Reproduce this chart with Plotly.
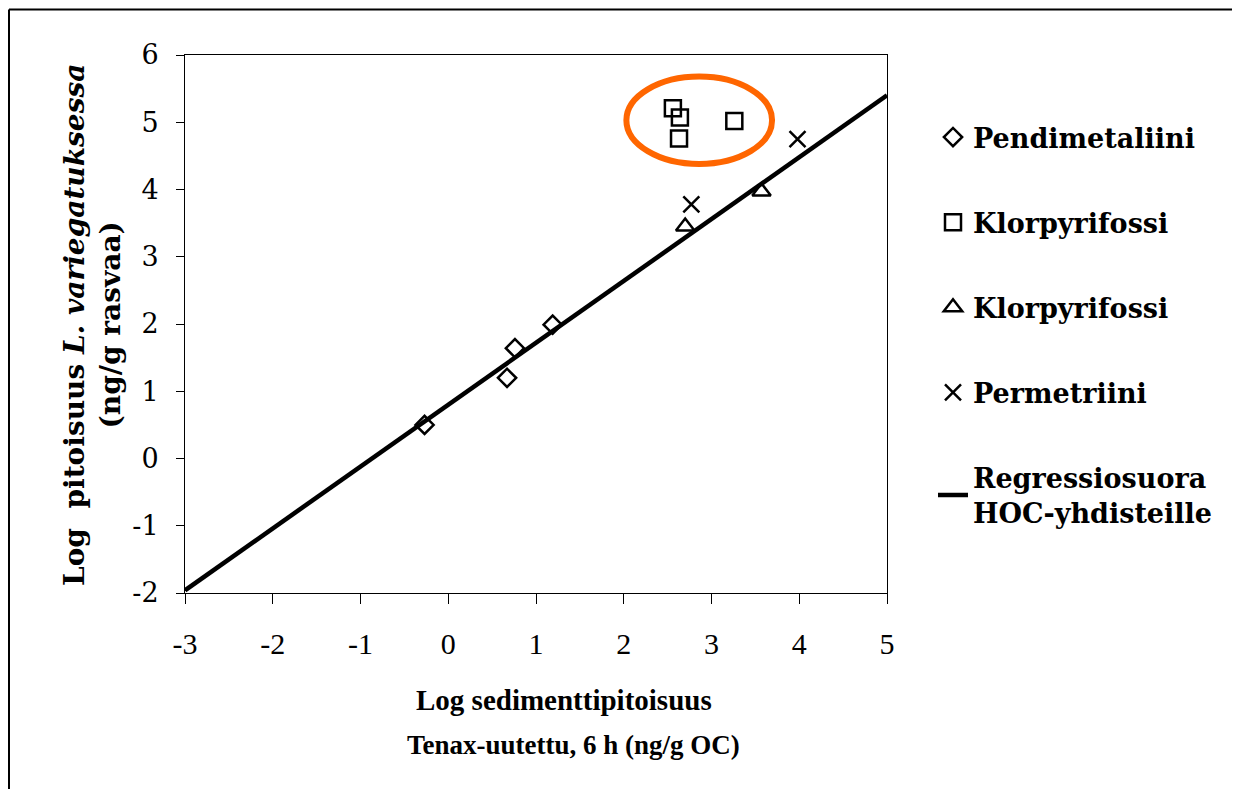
import plotly.graph_objects as go

# ---- data ----
pend_x = [-0.27, 0.67, 0.76, 1.19]
pend_y = [0.50, 1.20, 1.64, 1.99]
klor1_x = [2.56, 2.64, 2.63, 3.26]
klor1_y = [5.21, 5.07, 4.76, 5.02]
klor2_x = [2.70, 3.57]
klor2_y = [3.45, 3.97]
perm_x = [2.77, 3.98]
perm_y = [3.78, 4.75]
reg_x = [-3, 5]
reg_slope = 0.92
reg_intercept = 0.80
reg_y = [reg_slope * v + reg_intercept for v in reg_x]

x_ticks = [-3, -2, -1, 0, 1, 2, 3, 4, 5]
x_ticktext = ["-3", "-2", "-1", "0", "1", "2", "3", "4", "5"]
y_ticks = [-2, -1, 0, 1, 2, 3, 4, 5, 6]
y_ticktext = ["-2", "-1", "0", "1", "2", "3", "4", "5", "6"]

names = ["Pendimetaliini", "Klorpyrifossi", "Klorpyrifossi", "Permetriini",
         "Regressiosuora<br>HOC-yhdisteille"]

# ---- layout geometry (page body has an 8px margin) ----
O = 8
W, H = 1240 - O, 789 - O
L, R, T, B = 185 - O, 887 - O, 55 - O, 593 - O


def px(xp):
    return (xp - O - L) / (R - L)


def py(yp):
    return (B - (yp - O)) / (B - T)


SERIF = "DejaVu Serif"
TIMES = "Liberation Serif"

fig = go.Figure()

fig.add_trace(go.Scatter(x=pend_x, y=pend_y, mode="markers", name=names[0], legendgroup="a",
                         marker=dict(symbol="diamond-open", size=14, color="black",
                                     line=dict(color="black", width=2.5))))
fig.add_trace(go.Scatter(x=klor1_x, y=klor1_y, mode="markers", name=names[1], legendgroup="b",
                         marker=dict(symbol="square-open", size=16, color="black",
                                     line=dict(color="black", width=2.5))))
fig.add_trace(go.Scatter(x=klor2_x, y=klor2_y, mode="markers", name=names[2], legendgroup="c",
                         marker=dict(symbol="triangle-up-open", size=16, color="black",
                                     line=dict(color="black", width=2.5))))
fig.add_trace(go.Scatter(x=perm_x, y=perm_y, mode="markers", name=names[3], legendgroup="d",
                         marker=dict(symbol="x-thin-open", size=16, color="black",
                                     line=dict(color="black", width=2.5))))
fig.add_trace(go.Scatter(x=reg_x, y=reg_y, mode="lines", name=names[4], legendgroup="e",
                         line=dict(color="black", width=4.5)))

# orange ellipse highlighting the group
ell = dict(x0=2.03, x1=3.69, y0=4.38, y1=5.68)
shapes = [
    dict(type="circle", xref="x", yref="y", **ell, line=dict(color="#FF6600", width=6)),
    # outer frame (top and left visible)
    dict(type="line", xref="paper", yref="paper", x0=px(9), x1=px(1250), y0=py(9.5), y1=py(9.5),
         line=dict(color="black", width=2)),
    dict(type="line", xref="paper", yref="paper", x0=px(9), x1=px(9), y0=py(9.5), y1=py(800),
         line=dict(color="black", width=2)),
]

annotations = [
    dict(xref="paper", yref="paper", x=px(564), y=py(700), xanchor="center", yanchor="middle",
         text="<b>Log sedimenttipitoisuus</b>", showarrow=False,
         font=dict(family=TIMES, size=29, color="black")),
    dict(xref="paper", yref="paper", x=px(573), y=py(745), xanchor="center", yanchor="middle",
         text="<b>Tenax-uutettu, 6 h (ng/g OC)</b>", showarrow=False,
         font=dict(family=TIMES, size=27, color="black")),
    dict(xref="paper", yref="paper", x=px(92), y=py(325), xanchor="center", yanchor="middle",
         textangle=-90,
         text="<b>Log  pitoisuus <i>L. variegatuksessa</i><br>(ng/g rasvaa)</b>", showarrow=False,
         font=dict(family=SERIF, size=28, color="black")),
]

fig.update_layout(
    width=W, height=H,
    margin=dict(l=L, r=W - R, t=T, b=H - B),
    paper_bgcolor="white", plot_bgcolor="white",
    shapes=shapes, annotations=annotations,
    showlegend=True,
    legend=dict(x=px(933), y=py(113), xanchor="left", yanchor="top",
                font=dict(family=SERIF, size=27, color="black", weight="bold"),
                tracegroupgap=47, bgcolor="rgba(0,0,0,0)", itemwidth=30),
    xaxis=dict(range=[-3, 5], tickvals=x_ticks, ticktext=x_ticktext, ticks="outside",
               ticklen=10, tickwidth=1,
               tickcolor="black", showline=True, linecolor="black", linewidth=1, mirror=True,
               showgrid=False, zeroline=False, ticklabelstandoff=14,
               tickfont=dict(family=TIMES, size=30, color="black")),
    yaxis=dict(range=[-2, 6], tickvals=y_ticks, ticktext=y_ticktext, ticks="outside",
               ticklen=8, tickwidth=1,
               tickcolor="black", showline=True, linecolor="black", linewidth=1, mirror=True,
               showgrid=False, zeroline=False, ticklabelstandoff=12,
               tickfont=dict(family=SERIF, size=27, color="black")),
)

fig.write_html("out.html")
